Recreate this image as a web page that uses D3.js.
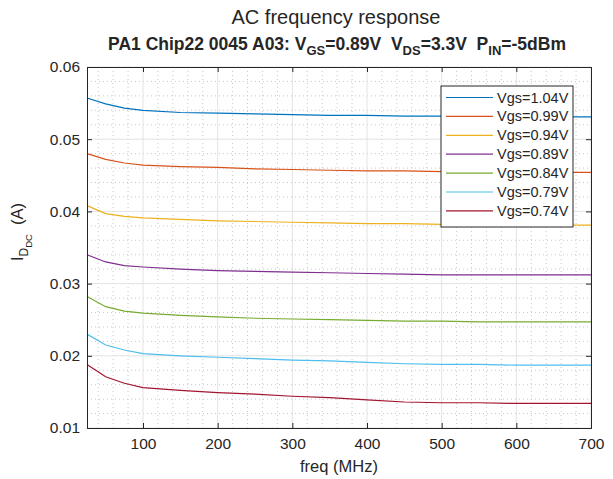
<!DOCTYPE html>
<html><head><meta charset="utf-8">
<script src="https://cdn.jsdelivr.net/npm/d3@7"></script>
<style>body{margin:0;background:#fff;} text{font-family:"Liberation Sans",Arial,sans-serif;fill:#262626;}</style>
</head><body>
<svg id="c" width="613" height="479"></svg>
<script>
const freq = [25, 50, 75, 100, 150, 200, 250, 300, 350, 400, 450, 500, 550, 600, 650, 700];
const vgs104 = [0.0557,0.0549,0.0543,0.0540,0.0537,0.0536,0.0535,0.0534,0.0533,0.0533,0.0532,0.0532,0.0531,0.0531,0.0531,0.0531];
const vgs099 = [0.0480,0.0472,0.0467,0.0464,0.0462,0.0461,0.0459,0.0458,0.0457,0.0456,0.0456,0.0455,0.0455,0.0454,0.0454,0.0454];
const vgs094 = [0.0408,0.0397,0.0393,0.0391,0.0389,0.0387,0.0386,0.0385,0.0384,0.0383,0.0383,0.0382,0.0382,0.0381,0.0381,0.0381];
const vgs089 = [0.0340,0.0330,0.0325,0.0323,0.0320,0.0318,0.0317,0.0316,0.0315,0.0314,0.0313,0.0312,0.0312,0.0312,0.0312,0.0312];
const vgs084 = [0.0282,0.0268,0.0262,0.0259,0.0256,0.0254,0.0252,0.0251,0.0250,0.0249,0.0248,0.0248,0.0247,0.0247,0.0247,0.0247];
const vgs079 = [0.0230,0.0215,0.0208,0.0203,0.0200,0.0198,0.0196,0.0194,0.0193,0.0191,0.0189,0.0188,0.0188,0.0187,0.0187,0.0187];
const vgs074 = [0.0188,0.0171,0.0162,0.0156,0.0152,0.0149,0.0147,0.0144,0.0142,0.0139,0.0136,0.0135,0.0135,0.0134,0.0134,0.0134];
const seriesNames = ["Vgs=1.04V","Vgs=0.99V","Vgs=0.94V","Vgs=0.89V","Vgs=0.84V","Vgs=0.79V","Vgs=0.74V"];
const seriesValues = [vgs104, vgs099, vgs094, vgs089, vgs084, vgs079, vgs074];
const colors = ["#0072BD","#D95319","#EDB120","#7E2F8E","#77AC30","#4DBEEE","#A2142F"];
const xTicks = [100,200,300,400,500,600,700];
const yTicks = [0.01,0.02,0.03,0.04,0.05,0.06];
const xDomain = [25, 700];
const yDomain = [0.01, 0.06];

const svg = d3.select("#c");
const m = {l:87, r:22, t:67, b:51};
const W = 613 - m.l - m.r, H = 479 - m.t - m.b;
const x = d3.scaleLinear().domain(xDomain).range([0, W]);
const y = d3.scaleLinear().domain(yDomain).range([H, 0]);
const g = svg.append("g").attr("transform", `translate(${m.l},${m.t})`);

// minor grid
const xMinor = d3.range(40, 701, 20).filter(v => v % 100 !== 0);
const yMinor = d3.range(0.012, 0.0600001, 0.002).filter(v => Math.abs(v*100 - Math.round(v*100)) > 1e-6);
g.selectAll(".mx").data(xMinor).join("line")
  .attr("x1", d => x(d)).attr("x2", d => x(d)).attr("y1", 0).attr("y2", H)
  .attr("stroke", "#c8c8c8").attr("stroke-width", 1).attr("stroke-dasharray", "1,3");
g.selectAll(".my").data(yMinor).join("line")
  .attr("y1", d => y(d)).attr("y2", d => y(d)).attr("x1", 0).attr("x2", W)
  .attr("stroke", "#c8c8c8").attr("stroke-width", 1).attr("stroke-dasharray", "1,3");
// major grid
g.selectAll(".gx").data(xTicks).join("line")
  .attr("x1", d => x(d)).attr("x2", d => x(d)).attr("y1", 0).attr("y2", H)
  .attr("stroke", "#e3e3e3").attr("stroke-width", 1);
g.selectAll(".gy").data(yTicks).join("line")
  .attr("y1", d => y(d)).attr("y2", d => y(d)).attr("x1", 0).attr("x2", W)
  .attr("stroke", "#e3e3e3").attr("stroke-width", 1);

// lines
const line = d3.line().x((d,i) => x(freq[i])).y(d => y(d));
seriesValues.forEach((vals, k) => {
  g.append("path").datum(vals).attr("d", line).attr("fill", "none")
    .attr("stroke", colors[k]).attr("stroke-width", 1.2);
});

// axes
const fmtY = d3.format(".2f");
const axB = g.append("g").attr("transform", `translate(0,${H})`)
  .call(d3.axisBottom(x).tickValues(xTicks).tickSize(-5).tickPadding(10));
const axT = g.append("g").call(d3.axisTop(x).tickValues(xTicks).tickSize(-5).tickFormat(""));
const axL = g.append("g").call(d3.axisLeft(y).tickValues(yTicks).tickSize(-5).tickPadding(7).tickFormat(fmtY));
const axR = g.append("g").attr("transform", `translate(${W},0)`).call(d3.axisRight(y).tickValues(yTicks).tickSize(-5).tickFormat(""));
[axB, axT, axL, axR].forEach(a => {
  a.select(".domain").attr("stroke", "#262626").attr("stroke-width", 1);
  a.selectAll(".tick line").attr("stroke", "#262626");
  a.selectAll(".tick text").attr("font-size", "15.5px").attr("fill", "#262626").attr("font-family", "Liberation Sans, Arial, sans-serif");
});

// legend
const lg = svg.append("g").attr("transform", "translate(441,86)");
lg.append("rect").attr("width", 132).attr("height", 141).attr("fill", "#fff").attr("stroke", "#262626").attr("stroke-width", 1);
seriesNames.forEach((n, k) => {
  const yy = 11.5 + k * 18.9;
  lg.append("line").attr("x1", 5).attr("x2", 52).attr("y1", yy).attr("y2", yy).attr("stroke", colors[k]).attr("stroke-width", 1.2);
  lg.append("text").attr("x", 56).attr("y", yy + 5).attr("font-size", "14.5px").text(n);
});

// titles
svg.append("text").attr("x", 336).attr("y", 24).attr("text-anchor", "middle").attr("font-size", "20px").text("AC frequency response");
const st = svg.append("text").attr("x", 337).attr("y", 50).attr("text-anchor", "middle").attr("font-size", "17.5px").attr("font-weight", "bold");
st.append("tspan").text("PA1 Chip22 0045 A03: V");
st.append("tspan").attr("dy", 5).attr("font-size", "13px").text("GS");
st.append("tspan").attr("dy", -5).text("=0.89V\u00a0\u00a0V");
st.append("tspan").attr("dy", 5).attr("font-size", "13px").text("DS");
st.append("tspan").attr("dy", -5).text("=3.3V\u00a0\u00a0P");
st.append("tspan").attr("dy", 5).attr("font-size", "13px").text("IN");
st.append("tspan").attr("dy", -5).text("=-5dBm");

// x label
svg.append("text").attr("x", 339).attr("y", 472).attr("text-anchor", "middle").attr("font-size", "16.5px").text("freq (MHz)");
// y label
const yl = svg.append("text").attr("transform", "translate(23,232) rotate(-90)").attr("text-anchor", "middle").attr("font-size", "16.5px");
yl.append("tspan").text("I");
yl.append("tspan").attr("dy", 5).attr("font-size", "12px").text("D");
yl.append("tspan").attr("dy", 4).attr("font-size", "9.5px").text("DC");
yl.append("tspan").attr("dy", -9).text("\u00a0 (A)");
</script>
</body></html>
